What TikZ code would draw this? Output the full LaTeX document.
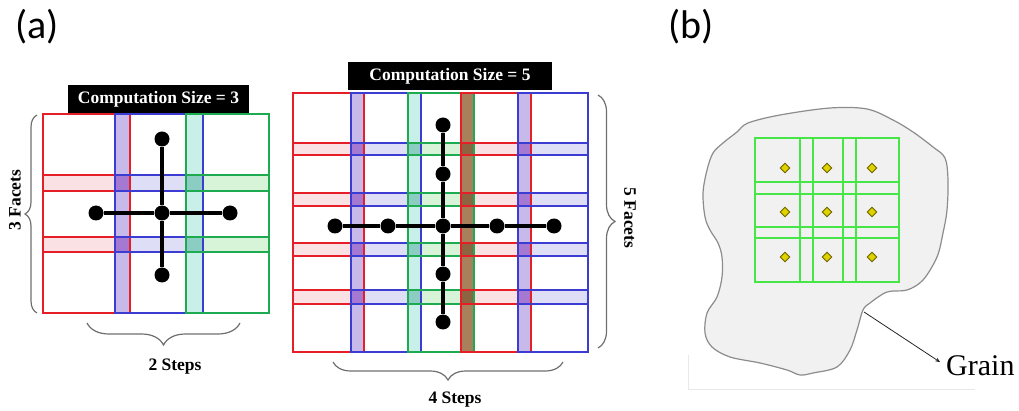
\documentclass[tikz,border=0pt]{standalone}
\usepackage{fontspec}
\setmainfont{Liberation Serif}
\newfontfamily\calib{Carlito}
\usetikzlibrary{decorations.pathreplacing,shapes.geometric,arrows.meta}
\definecolor{cr}{RGB}{230,30,40}
\definecolor{cb}{RGB}{60,60,210}
\definecolor{cg}{RGB}{30,170,80}
\definecolor{lr}{RGB}{250,226,228}
\definecolor{lb}{RGB}{222,222,246}
\definecolor{lg}{RGB}{216,244,216}
\definecolor{ovrb}{RGB}{200,185,235}
\definecolor{ovbg}{RGB}{200,240,232}
\definecolor{ovgr}{RGB}{168,128,92}
\definecolor{inrb}{RGB}{165,120,210}
\definecolor{inbg}{RGB}{140,205,195}
\definecolor{ingr}{RGB}{140,100,66}
\definecolor{grainfill}{RGB}{241,241,241}
\definecolor{grainedge}{RGB}{140,140,140}
\definecolor{bgreen}{RGB}{70,230,70}
\definecolor{dotyel}{RGB}{222,210,0}
\definecolor{dotedge}{RGB}{110,100,0}
\definecolor{bracegray}{RGB}{110,110,110}
\begin{document}
\begin{tikzpicture}[x=1pt,y=-1pt,
  gridline/.style={line width=2pt},
  dot/.style={circle,fill=black,inner sep=0pt,minimum size=15pt},
  stencil/.style={line width=4.6pt},
  lbl/.style={font=\bfseries\fontsize{17.5}{20}\selectfont},
  titlebox/.style={fill=black,text=white,inner sep=0pt,minimum height=28pt,font=\bfseries\fontsize{17.5}{20}\selectfont},
  curly/.style={decorate,decoration={brace,amplitude=#1},draw=bracegray,line width=1.2pt},
  panel/.style={font=\calib\fontsize{40}{44}\selectfont},
  gdot/.style={diamond,fill=dotyel,draw=dotedge,line width=0.9pt,inner sep=0pt,minimum size=10pt},
  ggrid/.style={draw=bgreen,line width=1.5pt}]
\useasboundingbox (0,0) rectangle (1019,411);

% panel labels
\node[panel] (pa) at (37,27) {(a)};
\node[panel] (pb) at (691,27) {(b)};

% ---------------- size 3 ----------------
\node[titlebox,minimum width=181pt] (t3) at (158.5,99) {Computation Size = 3};
\foreach \xa/\xb/\c in {43/130/lr,115/203/lb,186/269/lg}
  \foreach \ya/\yb in {175/191,237/252}
    \fill[\c] (\xa,\ya) rectangle (\xb,\yb);
\fill[ovrb] (115,114) rectangle (130,313);
\fill[ovbg] (186,114) rectangle (203,313);
\foreach \ya/\yb in {175/191,237/252}{
  \fill[inrb] (115,\ya) rectangle (130,\yb);
  \fill[inbg] (186,\ya) rectangle (203,\yb);}
\foreach \xa/\xb/\c in {43/130/cr,115/203/cb,186/269/cg}
  \foreach \ya/\yb in {114/191,175/252,237/313}
    \draw[gridline,\c] (\xa,\ya) rectangle (\xb,\yb);

\node[dot] (c3) at (162,213) {};
\node[dot] (n3) at (162,139) {};
\node[dot] (s3) at (162,275) {};
\node[dot] (w3) at (96,213) {};
\node[dot] (e3) at (230,213) {};
\draw[stencil] (n3) -- (c3) -- (s3);
\draw[stencil] (w3) -- (c3) -- (e3);

\coordinate (b3a) at (37,313);
\coordinate (b3b) at (37,115);
\draw[curly=12pt] (b3a) -- (b3b);
\node[lbl,rotate=90] (f3) at (15,200) {3 Facets};
\coordinate (b3c) at (240,323);
\coordinate (b3d) at (87,323);
\draw[curly=22pt] (b3c) -- (b3d);
\node[lbl] (st3) at (175,367) {2 Steps};

% ---------------- size 5 ----------------
\node[titlebox,minimum width=204pt] (t5) at (450,76) {Computation Size = 5};
\foreach \xa/\xb/\c in {293/364/lr,351/421/lb,408/474/lg,461/531/lr,518/588/lb}
  \foreach \ya/\yb in {143/155,193/206,243/256,290/304}
    \fill[\c] (\xa,\ya) rectangle (\xb,\yb);
\fill[ovrb] (351,93) rectangle (364,352);
\fill[ovbg] (408,93) rectangle (421,352);
\fill[ovgr] (461,93) rectangle (474,352);
\fill[ovrb] (518,93) rectangle (531,352);
\foreach \ya/\yb in {143/155,193/206,243/256,290/304}{
  \fill[inrb] (351,\ya) rectangle (364,\yb);
  \fill[inbg] (408,\ya) rectangle (421,\yb);
  \fill[ingr] (461,\ya) rectangle (474,\yb);
  \fill[inrb] (518,\ya) rectangle (531,\yb);}
\foreach \xa/\xb/\c in {293/364/cr,351/421/cb,408/474/cg,461/531/cr,518/588/cb}
  \foreach \ya/\yb in {93/155,143/206,193/256,243/304,290/352}
    \draw[gridline,\c] (\xa,\ya) rectangle (\xb,\yb);

\node[dot] (c5) at (443,226) {};
\node[dot] (w5a) at (335,226) {};
\node[dot] (w5b) at (388,226) {};
\node[dot] (e5b) at (497,226) {};
\node[dot] (e5a) at (554,226) {};
\node[dot] (n5a) at (443,125) {};
\node[dot] (n5b) at (443,174) {};
\node[dot] (s5b) at (443,274) {};
\node[dot] (s5a) at (443,322) {};
\draw[stencil] (w5a) -- (w5b) -- (c5) -- (e5b) -- (e5a);
\draw[stencil] (n5a) -- (n5b) -- (c5) -- (s5b) -- (s5a);

\coordinate (b5a) at (598,95);
\coordinate (b5b) at (598,348);
\draw[curly=17pt] (b5a) -- (b5b);
\node[lbl,rotate=-90] (f5) at (630,218) {5 Facets};
\coordinate (b5c) at (563,362);
\coordinate (b5d) at (333,362);
\draw[curly=18pt] (b5c) -- (b5d);
\node[lbl] (st5) at (455,400) {4 Steps};

% ---------------- panel (b) ----------------
\draw[gray!18,line width=0.8pt] (688,355) -- (688,389) -- (975,389);
\draw[fill=grainfill,draw=grainedge,line width=1.2pt] plot[smooth cycle,tension=0.55] coordinates {
(748,123) (780,115) (830,108) (867,109) (893,120) (913,132) (933,147) (945,158)
(948,180) (947,210) (943,233) (937,257) (923,280) (907,290) (887,292) (870,303)
(863,310) (857,330) (850,350) (837,367) (813,373) (800,375) (787,370) (760,363)
(730,357) (712,347) (705,333) (707,313) (717,297) (722,277) (722,257) (718,243)
(710,230) (705,217) (703,193) (707,170) (713,153) (723,143) (737,132)};
\foreach \xa/\xb in {755/813,800/856,843/899}
  \foreach \ya/\yb in {138/194,182/238,227/282}
    \draw[ggrid] (\xa,\ya) rectangle (\xb,\yb);
\foreach \x [count=\i] in {785,827,872}
  \foreach \y [count=\j] in {168,212,257}
    \node[gdot] (g\i\j) at (\x,\y) {};

\coordinate (gstart) at (864,312);
\node[anchor=west,font=\fontsize{30}{34}\selectfont,inner sep=0pt] (grain) at (946,366) {Grain};
\draw[line width=0.8pt,black!85,shorten >=7pt,-{Stealth[length=5pt,width=4pt]}] (gstart) -- (grain.west);
\end{tikzpicture}
\end{document}
